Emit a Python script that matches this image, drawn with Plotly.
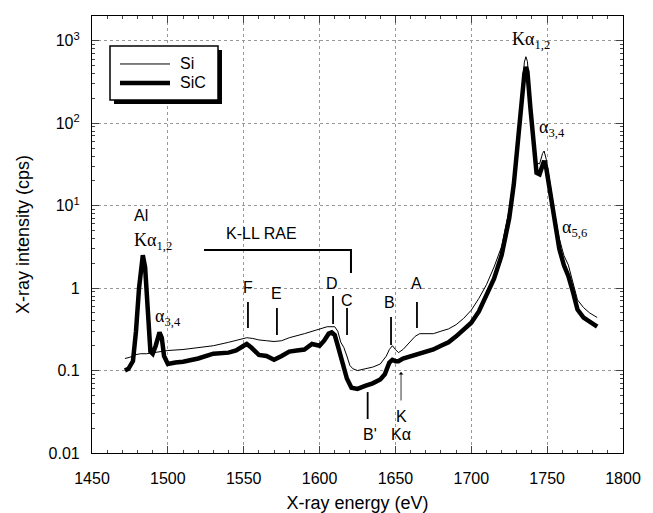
import numpy as np
import plotly.graph_objects as go

# ---------------- data ----------------
si_energy = [1471.7, 1475, 1478, 1482, 1486, 1490, 1495, 1500, 1510, 1520, 1530, 1540, 1548, 1552,
             1556, 1560, 1565, 1570, 1575, 1580, 1590, 1595, 1600, 1605, 1610, 1612, 1614, 1616,
             1618, 1620, 1622, 1625, 1630, 1635, 1640, 1644, 1646, 1648, 1650, 1652, 1655, 1660,
             1663, 1666, 1670, 1675, 1680, 1685, 1690, 1695, 1700, 1705, 1710, 1715, 1720, 1725,
             1728, 1730, 1733, 1735, 1736, 1737, 1739, 1741, 1743, 1745, 1747, 1748, 1749.5, 1752,
             1755, 1758, 1761, 1764, 1767, 1770, 1774, 1778, 1783]
si_counts = [0.14, 0.145, 0.155, 0.16, 0.16, 0.165, 0.17, 0.175, 0.18, 0.19, 0.2, 0.22, 0.24, 0.25,
             0.245, 0.235, 0.23, 0.225, 0.23, 0.25, 0.28, 0.3, 0.32, 0.34, 0.34, 0.3, 0.22, 0.19,
             0.15, 0.115, 0.105, 0.1, 0.105, 0.11, 0.12, 0.15, 0.18, 0.2, 0.18, 0.165, 0.18, 0.23,
             0.26, 0.28, 0.28, 0.28, 0.3, 0.32, 0.36, 0.43, 0.54, 0.75, 1.1, 1.8, 3.2, 9,
             22, 55, 230, 550, 640, 560, 200, 65, 33, 32, 43, 46, 36, 18,
             8, 4, 2.5, 1.9, 1.2, 0.72, 0.58, 0.5, 0.44]

sic_energy = [1471.7, 1474, 1477, 1479, 1481, 1483.5, 1485, 1487, 1488.5, 1490, 1492, 1494.5, 1496,
              1497.5, 1499, 1500, 1505, 1510, 1520, 1530, 1540, 1545, 1550, 1552, 1555, 1560, 1565,
              1570, 1575, 1580, 1585, 1590, 1595, 1600, 1603, 1606, 1608, 1610, 1612, 1615, 1618,
              1621, 1625, 1630, 1635, 1640, 1643, 1646, 1648, 1650, 1652, 1655, 1660, 1665, 1670,
              1675, 1680, 1685, 1690, 1695, 1700, 1705, 1710, 1715, 1720, 1725, 1728, 1730, 1733,
              1735, 1736, 1737, 1739, 1741, 1743, 1745, 1747, 1748, 1749.5, 1752, 1755, 1758, 1761,
              1764, 1767, 1770, 1774, 1778, 1783]
sic_counts = [0.10, 0.105, 0.13, 0.3, 1.0, 2.5, 1.8, 0.5, 0.17, 0.16, 0.2, 0.29, 0.25,
              0.15, 0.125, 0.12, 0.125, 0.128, 0.14, 0.16, 0.165, 0.175, 0.2, 0.21, 0.19, 0.155, 0.15,
              0.135, 0.15, 0.17, 0.175, 0.18, 0.21, 0.2, 0.23, 0.28, 0.29, 0.27, 0.2, 0.12, 0.08,
              0.062, 0.06, 0.065, 0.07, 0.078, 0.09, 0.125, 0.135, 0.13, 0.13, 0.14, 0.15, 0.16, 0.17,
              0.18, 0.2, 0.22, 0.26, 0.31, 0.38, 0.52, 0.8, 1.3, 2.5, 7, 18, 45, 180,
              400, 480, 420, 150, 50, 25, 24, 33, 35, 28, 14, 6, 3, 1.9,
              1.4, 0.9, 0.55, 0.44, 0.39, 0.34]

# feature markers: label, energy, tick-line log10 top/bottom, label log10 position
feat_labels = ["F", "E", "D", "C", "B", "A", "B'"]
feat_energy = [1552.8, 1571.9, 1608.9, 1618.1, 1647.1, 1664.2, 1631.7]
feat_line_top = [-0.170, -0.242, -0.097, -0.242, -0.352, -0.170, -1.261]
feat_line_bot = [-0.485, -0.570, -0.436, -0.570, -0.691, -0.485, -1.588]
feat_label_energy = [1552.8, 1571.9, 1608.2, 1618.1, 1645.8, 1664.2, 1633.2]
feat_label_log = [0.012, -0.061, 0.06, -0.145, -0.17, 0.06, -1.78]

# K-LL RAE bracket
bracket_energy = [1523.8, 1620.7, 1620.7]
bracket_log = [0.4606, 0.4606, 0.1818]

y_tickvals = [0.01, 0.1, 1, 10, 100, 1000]
y_ticktext = ["0.01", "0.1", "1", "10<sup>1</sup>", "10<sup>2</sup>", "10<sup>3</sup>"]
x_tickvals = [1450, 1500, 1550, 1600, 1650, 1700, 1750, 1800]

legend_names = ["Si", "SiC"]
legend_widths = [1, 4.5]

SANS = "Liberation Sans, Arial, sans-serif"
SERIF = "Liberation Serif, Times New Roman, serif"

fig = go.Figure()
fig.add_trace(go.Scatter(x=si_energy, y=si_counts, mode="lines", name="Si",
                         line=dict(color="black", width=1), showlegend=False))
fig.add_trace(go.Scatter(x=sic_energy, y=sic_counts, mode="lines", name="SiC",
                         line=dict(color="black", width=4.5), showlegend=False))

# feature tick lines
for e, t, b in zip(feat_energy, feat_line_top, feat_line_bot):
    fig.add_trace(go.Scatter(x=[e, e], y=[10 ** t, 10 ** b], mode="lines",
                             line=dict(color="black", width=1.8), showlegend=False,
                             hoverinfo="skip"))
fig.add_trace(go.Scatter(x=bracket_energy, y=[10 ** v for v in bracket_log], mode="lines",
                         line=dict(color="black", width=2), showlegend=False, hoverinfo="skip"))

ann = []
for lab, e, lg in zip(feat_labels, feat_label_energy, feat_label_log):
    ann.append(dict(x=e, y=lg, text=lab, showarrow=False, font=dict(family=SANS, size=16)))
ann.append(dict(x=1561.9, y=0.667, text="K-LL RAE", showarrow=False,
                font=dict(family=SANS, size=16)))
ann.append(dict(x=1482.3, y=0.88, text="Al", showarrow=False, font=dict(family=SANS, size=16)))
ann.append(dict(x=1476.2, y=0.725, yanchor="top", text="Kα<sub>1,2</sub>", showarrow=False,
                xanchor="left", font=dict(family=SERIF, size=18)))
ann.append(dict(x=1490.0, y=-0.36, text="α<sub>3,4</sub>", showarrow=False, xanchor="left",
                font=dict(family=SERIF, size=18)))
ann.append(dict(x=1725.2, y=3.0, text="Kα<sub>1,2</sub>", showarrow=False, xanchor="left",
                font=dict(family=SERIF, size=18)))
ann.append(dict(x=1743.6, y=1.93, text="α<sub>3,4</sub>", showarrow=False, xanchor="left",
                font=dict(family=SERIF, size=18)))
ann.append(dict(x=1758.8, y=0.72, text="α<sub>5,6</sub>", showarrow=False, xanchor="left",
                font=dict(family=SERIF, size=18)))
# K K-alpha arrow
ann.append(dict(x=1653.7, y=-1.018, text="", showarrow=True, ax=0, ay=30,
                arrowhead=1, arrowsize=1, arrowwidth=0.8, arrowcolor="black"))
ann.append(dict(x=1653.7, y=-1.56, text="K", showarrow=False, font=dict(family=SANS, size=16)))
ann.append(dict(x=1653.7, y=-1.78, text="Kα", showarrow=False, font=dict(family=SANS, size=16)))

# ---- legend box drawn by hand (box with drop shadow) ----
shapes = []
shapes.append(dict(type="rect", xref="paper", yref="paper", x0=0.0414, x1=0.2448,
                   y0=0.7986, y1=0.9222, fillcolor="black", line=dict(width=0), layer="above"))
shapes.append(dict(type="rect", xref="paper", yref="paper", x0=0.0339, x1=0.2373,
                   y0=0.8078, y1=0.9314, fillcolor="white", line=dict(color="black", width=1.5),
                   layer="above"))
leg_y = [0.8902, 0.8467]
for name, w, yy in zip(legend_names, legend_widths, leg_y):
    shapes.append(dict(type="line", xref="paper", yref="paper", x0=0.0527, x1=0.1469,
                       y0=yy, y1=yy, line=dict(color="black", width=w), layer="above"))
    ann.append(dict(xref="paper", yref="paper", x=0.162, y=yy, xanchor="left",
                    yanchor="middle", text=name,
                    showarrow=False, font=dict(family=SANS, size=16)))

fig.update_layout(
    width=653, height=513,
    margin=dict(l=92, r=30, t=16, b=60, autoexpand=False),
    paper_bgcolor="white", plot_bgcolor="white",
    font=dict(family=SANS, size=16, color="black"),
    annotations=ann, shapes=shapes,
    showlegend=False,
)
fig.update_xaxes(range=[1450, 1800], tickvals=x_tickvals, ticks="inside", ticklen=7,
                 automargin=False,
                 showline=True, linecolor="black", linewidth=1.2, mirror="allticks",
                 showgrid=True, gridcolor="#999", griddash="dot", gridwidth=1,
                 zeroline=False, tickfont=dict(size=16, family=SANS), ticklabelstandoff=11,
                 minor=dict(ticks="inside", ticklen=3, dtick=10, showgrid=False),
                 title=dict(text="X-ray energy (eV)", font=dict(size=18, family=SANS), standoff=16))
fig.update_yaxes(type="log", range=[-2, 3.3], tickvals=y_tickvals, ticktext=y_ticktext,
                 ticks="inside", ticklen=7, automargin=False,
                 showline=True, linecolor="black", linewidth=1.2, mirror="allticks",
                 showgrid=True, gridcolor="#999", griddash="dot", gridwidth=1,
                 zeroline=False, tickfont=dict(size=16, family=SANS), ticklabelstandoff=8,
                 minor=dict(ticks="inside", ticklen=3, dtick="D1", showgrid=False),
                 title=dict(text="X-ray intensity (cps)", font=dict(size=18, family=SANS), standoff=14))

fig.write_html("out.html")
